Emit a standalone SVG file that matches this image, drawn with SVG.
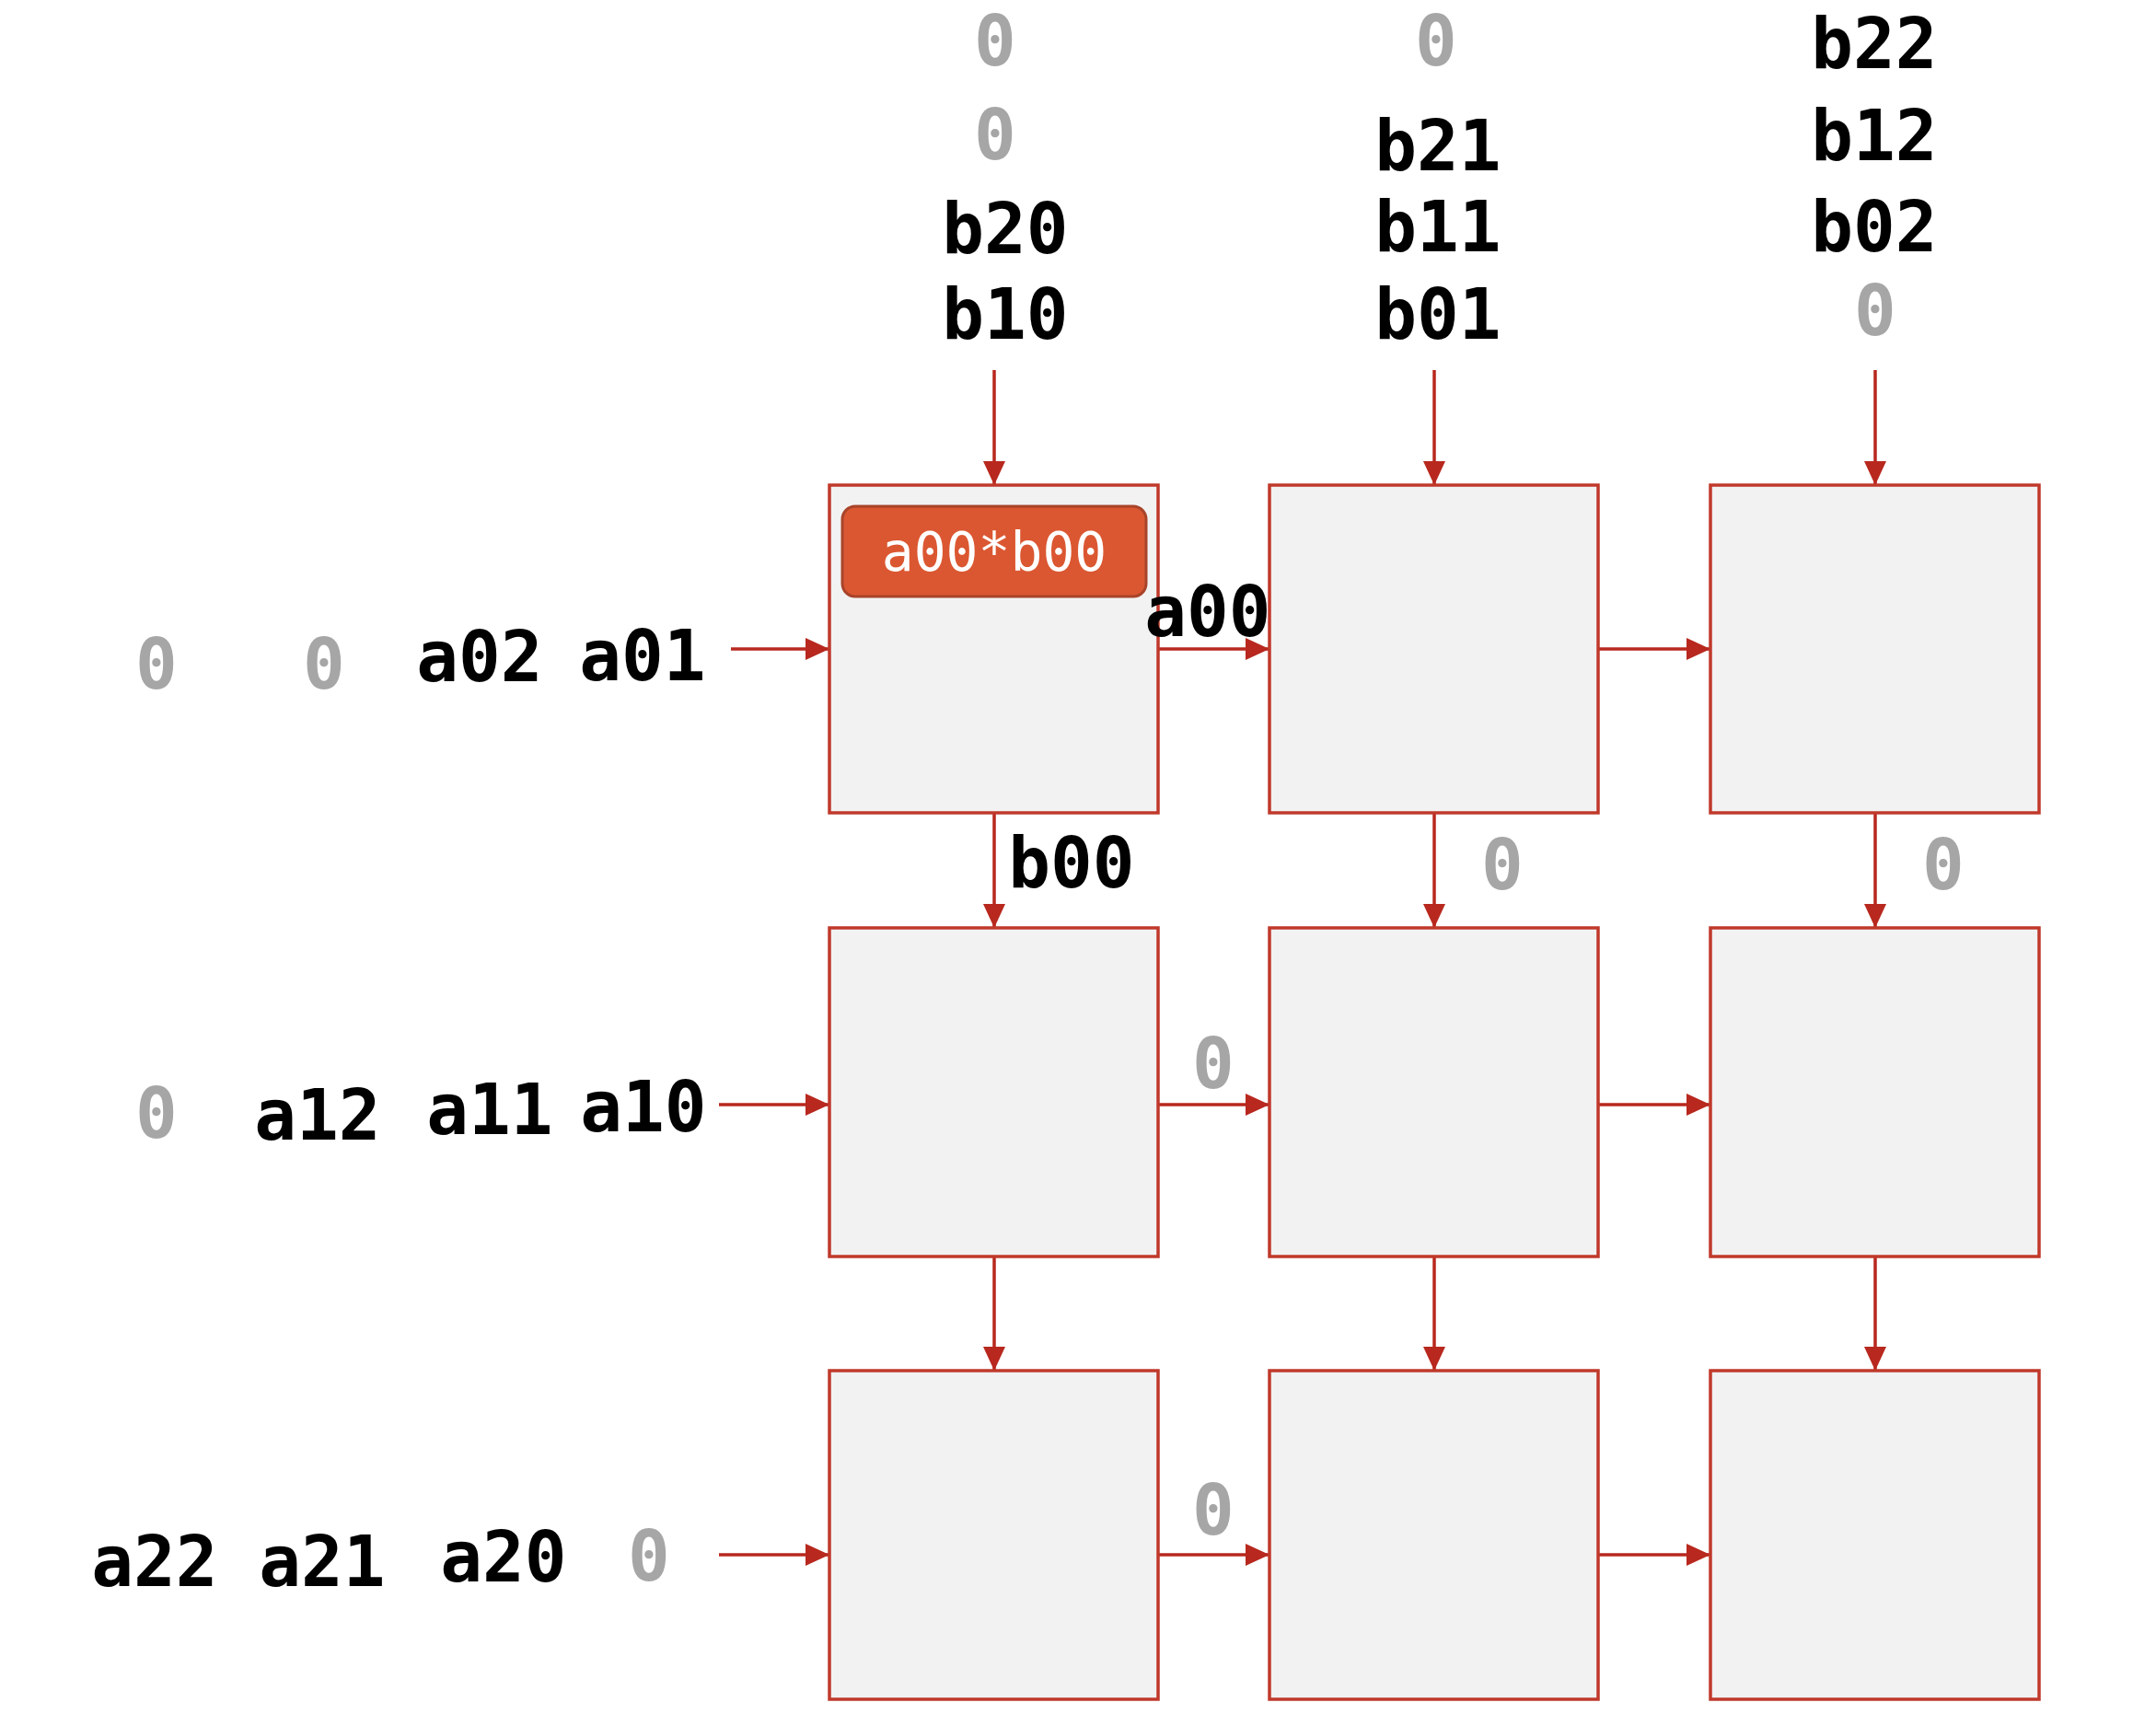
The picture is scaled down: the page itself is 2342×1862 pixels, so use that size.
<svg xmlns="http://www.w3.org/2000/svg" width="2342" height="1862" viewBox="0 0 2342 1862">
<style>
.pe{fill:#f2f2f2;stroke:#c0392b;stroke-width:3.5}
.c line{stroke:#b8281e;stroke-width:3.5;marker-end:url(#ah)}
.t{font-family:"DejaVu Sans Mono","Liberation Mono",monospace;font-weight:bold;font-size:76px;text-anchor:middle;fill:#000}
.z{fill:#a6a6a6}
.badge{fill:#db5731;stroke:#a8442a;stroke-width:3}
.bt{font-family:"DejaVu Sans Mono","Liberation Mono",monospace;font-size:58px;text-anchor:middle;fill:#fff}
</style>
<defs>
<marker id="ah" markerUnits="userSpaceOnUse" markerWidth="28" markerHeight="26" refX="26" refY="12" orient="auto">
<path d="M0,0 L26,12 L0,24 z" fill="#b8281e"/>
</marker>
</defs>
<rect width="2342" height="1862" fill="#fff"/>
<g id="connectors" class="c">
<line x1="1080" y1="402" x2="1080" y2="527"/>
<line x1="1558" y1="402" x2="1558" y2="527"/>
<line x1="2037" y1="402" x2="2037" y2="527"/>
<line x1="1080" y1="883" x2="1080" y2="1008"/>
<line x1="1558" y1="883" x2="1558" y2="1008"/>
<line x1="2037" y1="883" x2="2037" y2="1008"/>
<line x1="1080" y1="1365" x2="1080" y2="1489"/>
<line x1="1558" y1="1365" x2="1558" y2="1489"/>
<line x1="2037" y1="1365" x2="2037" y2="1489"/>
<line x1="794" y1="705" x2="901" y2="705"/>
<line x1="1258" y1="705" x2="1379" y2="705"/>
<line x1="1737" y1="705" x2="1858" y2="705"/>
<line x1="781" y1="1200" x2="901" y2="1200"/>
<line x1="1258" y1="1200" x2="1379" y2="1200"/>
<line x1="1737" y1="1200" x2="1858" y2="1200"/>
<line x1="781" y1="1689" x2="901" y2="1689"/>
<line x1="1258" y1="1689" x2="1379" y2="1689"/>
<line x1="1737" y1="1689" x2="1858" y2="1689"/>
</g>
<g id="pe00"><rect class="pe" x="901" y="527" width="357" height="356"/>
<rect class="badge" x="915" y="550" width="330" height="98" rx="14"/>
<text class="bt" x="1080" y="620">a00*b00</text></g>
<g id="pe01"><rect class="pe" x="1379" y="527" width="357" height="356"/></g>
<g id="pe02"><rect class="pe" x="1858" y="527" width="357" height="356"/></g>
<g id="pe10"><rect class="pe" x="901" y="1008" width="357" height="357"/></g>
<g id="pe11"><rect class="pe" x="1379" y="1008" width="357" height="357"/></g>
<g id="pe12"><rect class="pe" x="1858" y="1008" width="357" height="357"/></g>
<g id="pe20"><rect class="pe" x="901" y="1489" width="357" height="357"/></g>
<g id="pe21"><rect class="pe" x="1379" y="1489" width="357" height="357"/></g>
<g id="pe22"><rect class="pe" x="1858" y="1489" width="357" height="357"/></g>
<g id="labels">
<text class="t z" x="1081" y="71">0</text>
<text class="t z" x="1081" y="173">0</text>
<text class="t" x="1092" y="275">b20</text>
<text class="t" x="1092" y="368">b10</text>
<text class="t z" x="1560" y="71">0</text>
<text class="t" x="1562" y="185">b21</text>
<text class="t" x="1562" y="273">b11</text>
<text class="t" x="1562" y="368">b01</text>
<text class="t" x="2036" y="74">b22</text>
<text class="t" x="2036" y="174">b12</text>
<text class="t" x="2036" y="273">b02</text>
<text class="t z" x="2037" y="364">0</text>
<text class="t" x="1312" y="691">a00</text>
<text class="t" x="1164" y="964">b00</text>
<text class="t z" x="1632" y="966">0</text>
<text class="t z" x="2111" y="966">0</text>
<text class="t z" x="1318" y="1182">0</text>
<text class="t z" x="1318" y="1667">0</text>
<text class="t z" x="170" y="748">0</text>
<text class="t z" x="352" y="748">0</text>
<text class="t" x="521" y="740">a02</text>
<text class="t" x="698" y="739">a01</text>
<text class="t z" x="170" y="1236">0</text>
<text class="t" x="345" y="1238">a12</text>
<text class="t" x="532" y="1232">a11</text>
<text class="t" x="699" y="1229">a10</text>
<text class="t" x="168" y="1723">a22</text>
<text class="t" x="350" y="1723">a21</text>
<text class="t" x="547" y="1718">a20</text>
<text class="t z" x="705" y="1717">0</text>
</g>
</svg>
